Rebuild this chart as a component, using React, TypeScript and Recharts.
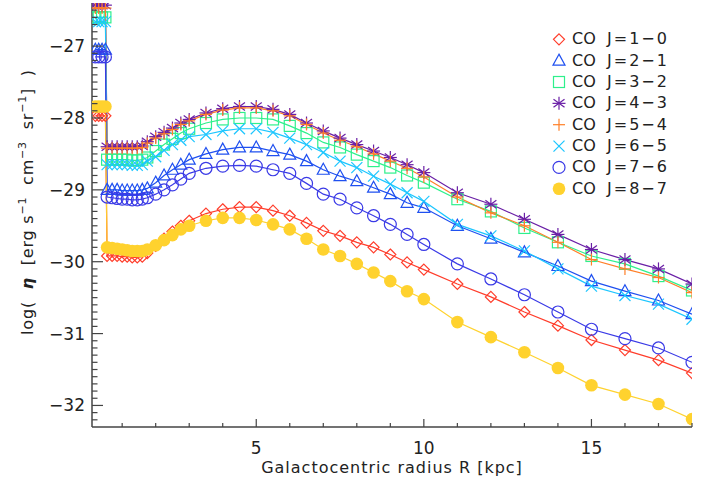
import React from 'react';
import { LineChart, Line, XAxis, YAxis, Legend } from 'recharts';

// radius grid (kpc) and log emissivity per CO line
const radius = [0.2, 0.3, 0.4, 0.5, 0.55, 0.7, 0.85, 1.0, 1.15, 1.3, 1.45, 1.6, 1.75, 2.0, 2.25, 2.5, 2.75, 3.0, 3.5, 4.0, 4.5, 5.0, 5.5, 6.0, 6.5, 7.0, 7.5, 8.0, 8.5, 9.0, 9.5, 10, 11, 12, 13, 14, 15, 16, 17, 18];

const co10 = [-27.97, -27.97, -27.97, -27.97, -29.92, -29.92, -29.92, -29.93, -29.93, -29.94, -29.94, -29.93, -29.88, -29.78, -29.68, -29.58, -29.5, -29.43, -29.33, -29.27, -29.24, -29.24, -29.29, -29.36, -29.46, -29.57, -29.64, -29.73, -29.8, -29.9, -30.01, -30.11, -30.31, -30.49, -30.7, -30.89, -31.09, -31.23, -31.37, -31.55];
const co21 = [-27.05, -27.05, -27.05, -27.05, -29.0, -29.0, -29.0, -29.01, -29.01, -29.01, -29.01, -29.0, -28.98, -28.9, -28.8, -28.72, -28.65, -28.58, -28.5, -28.44, -28.41, -28.41, -28.46, -28.51, -28.6, -28.72, -28.81, -28.88, -28.97, -29.06, -29.18, -29.25, -29.5, -29.68, -29.87, -30.06, -30.27, -30.41, -30.54, -30.73];
const co32 = [-26.6, -26.6, -26.6, -26.6, -28.58, -28.58, -28.58, -28.58, -28.58, -28.59, -28.59, -28.58, -28.55, -28.46, -28.37, -28.29, -28.21, -28.15, -28.07, -28.02, -28.0, -28.0, -28.02, -28.11, -28.21, -28.34, -28.41, -28.51, -28.6, -28.69, -28.8, -28.9, -29.13, -29.3, -29.53, -29.73, -29.92, -30.03, -30.2, -30.4];
const co43 = [-26.43, -26.43, -26.43, -26.43, -28.4, -28.4, -28.4, -28.4, -28.4, -28.4, -28.4, -28.39, -28.33, -28.26, -28.2, -28.14, -28.07, -28.02, -27.93, -27.87, -27.84, -27.84, -27.88, -27.95, -28.07, -28.18, -28.28, -28.37, -28.46, -28.55, -28.65, -28.76, -29.04, -29.2, -29.41, -29.62, -29.83, -29.97, -30.1, -30.31];
const co54 = [-26.47, -26.47, -26.47, -26.47, -28.42, -28.42, -28.42, -28.42, -28.42, -28.42, -28.42, -28.41, -28.35, -28.28, -28.22, -28.16, -28.09, -28.04, -27.95, -27.89, -27.86, -27.86, -27.9, -27.97, -28.09, -28.21, -28.31, -28.4, -28.5, -28.6, -28.7, -28.82, -29.1, -29.32, -29.5, -29.73, -29.97, -30.1, -30.22, -30.43];
const co65 = [-26.66, -26.66, -26.66, -26.66, -28.65, -28.65, -28.65, -28.65, -28.65, -28.66, -28.66, -28.65, -28.6, -28.54, -28.45, -28.37, -28.31, -28.26, -28.23, -28.18, -28.15, -28.15, -28.2, -28.28, -28.37, -28.48, -28.6, -28.69, -28.81, -28.92, -29.04, -29.16, -29.48, -29.64, -29.85, -30.1, -30.34, -30.47, -30.59, -30.8];
const co76 = [-27.15, -27.15, -27.15, -27.15, -29.1, -29.11, -29.12, -29.13, -29.13, -29.14, -29.14, -29.13, -29.11, -29.06, -29.0, -28.93, -28.85, -28.77, -28.7, -28.67, -28.66, -28.67, -28.72, -28.77, -28.91, -29.06, -29.13, -29.25, -29.36, -29.48, -29.62, -29.76, -30.03, -30.24, -30.46, -30.7, -30.94, -31.07, -31.2, -31.4];
const co87 = [-27.84, -27.84, -27.84, -27.84, -29.8, -29.81, -29.82, -29.83, -29.84, -29.85, -29.85, -29.85, -29.83, -29.77, -29.7, -29.63, -29.55, -29.5, -29.43, -29.39, -29.39, -29.42, -29.48, -29.55, -29.68, -29.83, -29.92, -30.03, -30.15, -30.27, -30.41, -30.52, -30.84, -31.05, -31.26, -31.48, -31.72, -31.85, -31.98, -32.19];

const lineLabels = ['J=1\u22120', 'J=2\u22121', 'J=3\u22122', 'J=4\u22123', 'J=5\u22124', 'J=6\u22125', 'J=7\u22126', 'J=8\u22127'];

const xMajor = [5, 10, 15];
const xTicks = [1, 2, 3, 4, 5, 6, 7, 8, 9, 10, 11, 12, 13, 14, 15, 16, 17, 18];
const yMajor = [-32, -31, -30, -29, -28, -27];
const yTicks: number[] = [];
for (let i = -322; i <= -265; i++) yTicks.push(i / 10);

const series = [
  { key: 'co10', values: co10, color: '#ff3d2b', shape: 'diamond' },
  { key: 'co21', values: co21, color: '#1f50f0', shape: 'triangle' },
  { key: 'co32', values: co32, color: '#2ef08c', shape: 'square' },
  { key: 'co43', values: co43, color: '#6a1fa6', shape: 'star' },
  { key: 'co54', values: co54, color: '#ff7f27', shape: 'plus' },
  { key: 'co65', values: co65, color: '#1cc6ff', shape: 'cross' },
  { key: 'co76', values: co76, color: '#3a3ae6', shape: 'circle' },
  { key: 'co87', values: co87, color: '#ffd22e', shape: 'dot' },
];

const data = radius.map((r, i) => {
  const row: any = { r };
  series.forEach((s) => { row[s.key] = s.values[i]; });
  return row;
});

const FONT = '"DejaVu Sans", sans-serif';
const AXIS = '#444';
const TXT = '#222';
const SP = '\u00a0';

const isMajor = (v: number, list: number[]) => list.some((m) => Math.abs(m - v) < 1e-6);
const fmt = (v: number) => (v < 0 ? '\u2212' : '') + Math.abs(Math.round(v));

function Marker({ shape, cx, cy, color }: any) {
  const sw = 1.2;
  switch (shape) {
    case 'diamond':
      return <polygon points={`${cx},${cy - 5.5} ${cx + 5.5},${cy} ${cx},${cy + 5.5} ${cx - 5.5},${cy}`} fill="none" stroke={color} strokeWidth={sw} />;
    case 'triangle':
      return <polygon points={`${cx},${cy - 6.5} ${cx + 6},${cy + 4.5} ${cx - 6},${cy + 4.5}`} fill="none" stroke={color} strokeWidth={sw} />;
    case 'square':
      return <rect x={cx - 5.5} y={cy - 5.5} width={11} height={11} fill="none" stroke={color} strokeWidth={sw} />;
    case 'star':
      return (
        <g stroke={color} strokeWidth={sw}>
          <line x1={cx} y1={cy - 6.5} x2={cx} y2={cy + 6.5} />
          <line x1={cx - 5.5} y1={cy - 4} x2={cx + 5.5} y2={cy + 4} />
          <line x1={cx - 5.5} y1={cy + 4} x2={cx + 5.5} y2={cy - 4} />
          <line x1={cx - 6.5} y1={cy} x2={cx + 6.5} y2={cy} />
        </g>
      );
    case 'plus':
      return (
        <g stroke={color} strokeWidth={sw}>
          <line x1={cx} y1={cy - 6} x2={cx} y2={cy + 6} />
          <line x1={cx - 6} y1={cy} x2={cx + 6} y2={cy} />
        </g>
      );
    case 'cross':
      return (
        <g stroke={color} strokeWidth={sw}>
          <line x1={cx - 5.5} y1={cy - 5.5} x2={cx + 5.5} y2={cy + 5.5} />
          <line x1={cx - 5.5} y1={cy + 5.5} x2={cx + 5.5} y2={cy - 5.5} />
        </g>
      );
    case 'circle':
      return <circle cx={cx} cy={cy} r={6} fill="none" stroke={color} strokeWidth={sw} />;
    default:
      return <circle cx={cx} cy={cy} r={6.3} fill={color} stroke="none" />;
  }
}

function LeftTick({ x, y, payload }: any) {
  const major = isMajor(payload.value, yMajor);
  return (
    <g>
      <line x1={x} x2={x + (major ? 11 : 5.5)} y1={y} y2={y} stroke={AXIS} strokeWidth={1.2} />
      {major && (
        <text x={x - 7} y={y + 6} textAnchor="end" fontFamily={FONT} fontSize={17} fill={TXT}>{fmt(payload.value)}</text>
      )}
    </g>
  );
}

function RightTick({ x, y, payload }: any) {
  const major = isMajor(payload.value, yMajor);
  return <line x1={x} x2={x - (major ? 11 : 5.5)} y1={y} y2={y} stroke={AXIS} strokeWidth={1.2} />;
}

function BottomTick({ x, y, payload }: any) {
  const major = isMajor(payload.value, xMajor);
  return (
    <g>
      <line x1={x} x2={x} y1={y} y2={y - (major ? 8 : 4)} stroke={AXIS} strokeWidth={1.2} />
      {major && (
        <text x={x} y={y + 27} textAnchor="middle" fontFamily={FONT} fontSize={17} fill={TXT}>{payload.value}</text>
      )}
    </g>
  );
}

function TopTick({ x, y, payload }: any) {
  const major = isMajor(payload.value, xMajor);
  return <line x1={x} x2={x} y1={y} y2={y + (major ? 8 : 4)} stroke={AXIS} strokeWidth={1.2} />;
}

function XTitle({ viewBox }: any) {
  const cx = viewBox ? viewBox.x + viewBox.width / 2 : 392;
  return (
    <text x={cx} y={473} textAnchor="middle" fontFamily={FONT} fontSize={16} fill={TXT} letterSpacing={1}>
      Galactocentric radius R [kpc]
    </text>
  );
}

function YTitle() {
  return (
    <text transform="translate(33,202) rotate(-90)" textAnchor="middle" fontFamily={FONT} fontSize={16} fill={TXT} letterSpacing={0.8}>
      {`log(${SP}${SP}`}
      <tspan fontWeight="bold" fontStyle="italic">{'\u03b7'}</tspan>
      <tspan>{`${SP}${SP}[erg${SP}s`}</tspan>
      <tspan dy={-7} fontSize={11}>{'\u22121'}</tspan>
      <tspan dy={7}>{`${SP}${SP}cm`}</tspan>
      <tspan dy={-7} fontSize={11}>{'\u22123'}</tspan>
      <tspan dy={7}>{`${SP}${SP}sr`}</tspan>
      <tspan dy={-7} fontSize={11}>{'\u22121'}</tspan>
      <tspan dy={7}>{`]${SP}${SP})`}</tspan>
    </text>
  );
}

function LegendBox() {
  return (
    <svg width={150} height={180} style={{ display: 'block' }}>
      {series.map((s, i) => {
        const cy = 13.3 + 21.35 * i;
        return (
          <g key={s.key}>
            <Marker shape={s.shape} cx={11} cy={cy + 1} color={s.color} />
            <text x={24} y={cy + 6} fontFamily={FONT} fontSize={16} fill={TXT}>CO</text>
            <text x={59} y={cy + 6} fontFamily={FONT} fontSize={16} fill={TXT} letterSpacing={2}>{lineLabels[i]}</text>
          </g>
        );
      })}
    </svg>
  );
}

export default function App() {
  return (
    <div style={{ position: 'absolute', left: 0, top: 0, width: 714, height: 488, background: '#fff' }}>
      <LineChart width={714} height={488} data={data} margin={{ top: 3, right: 22, bottom: 0, left: 0 }}>
        <XAxis
          dataKey="r"
          type="number"
          domain={[0.1, 18]}
          allowDataOverflow
          ticks={xTicks}
          interval={0}
          height={61}
          tickSize={0}
          tickMargin={0}
          tickLine={false}
          tick={<BottomTick />}
          axisLine={{ stroke: AXIS, strokeWidth: 1.5 }}
          label={<XTitle />}
        />
        <XAxis
          xAxisId="top"
          orientation="top"
          type="number"
          domain={[0.1, 18]}
          allowDataOverflow
          ticks={xTicks}
          interval={0}
          height={0}
          tickSize={0}
          tickMargin={0}
          tickLine={false}
          tick={<TopTick />}
          axisLine={{ stroke: AXIS, strokeWidth: 1.5 }}
        />
        <YAxis
          type="number"
          domain={[-32.3, -26.4]}
          allowDataOverflow
          ticks={yTicks}
          interval={0}
          width={92}
          tickSize={0}
          tickMargin={0}
          tickLine={false}
          tick={<LeftTick />}
          axisLine={{ stroke: AXIS, strokeWidth: 1.5 }}
          label={<YTitle />}
        />
        <YAxis
          yAxisId="right"
          orientation="right"
          type="number"
          domain={[-32.3, -26.4]}
          allowDataOverflow
          ticks={yTicks}
          interval={0}
          width={0}
          tickSize={0}
          tickMargin={0}
          tickLine={false}
          tick={<RightTick />}
          axisLine={{ stroke: AXIS, strokeWidth: 1.5 }}
        />
        <Legend
          layout="horizontal"
          verticalAlign="middle"
          align="center"
          wrapperStyle={{ left: 548, top: 25, width: 150, height: 180 }}
          content={() => <LegendBox />}
        />
        {series.map((s) => (
          <Line
            key={s.key}
            dataKey={s.key}
            type="linear"
            stroke={s.color}
            strokeWidth={1.2}
            isAnimationActive={false}
            dot={(p: any) => <Marker key={`${s.key}-${p.index}`} shape={s.shape} cx={p.cx} cy={p.cy} color={s.color} />}
            activeDot={false}
          />
        ))}
      </LineChart>
    </div>
  );
}
